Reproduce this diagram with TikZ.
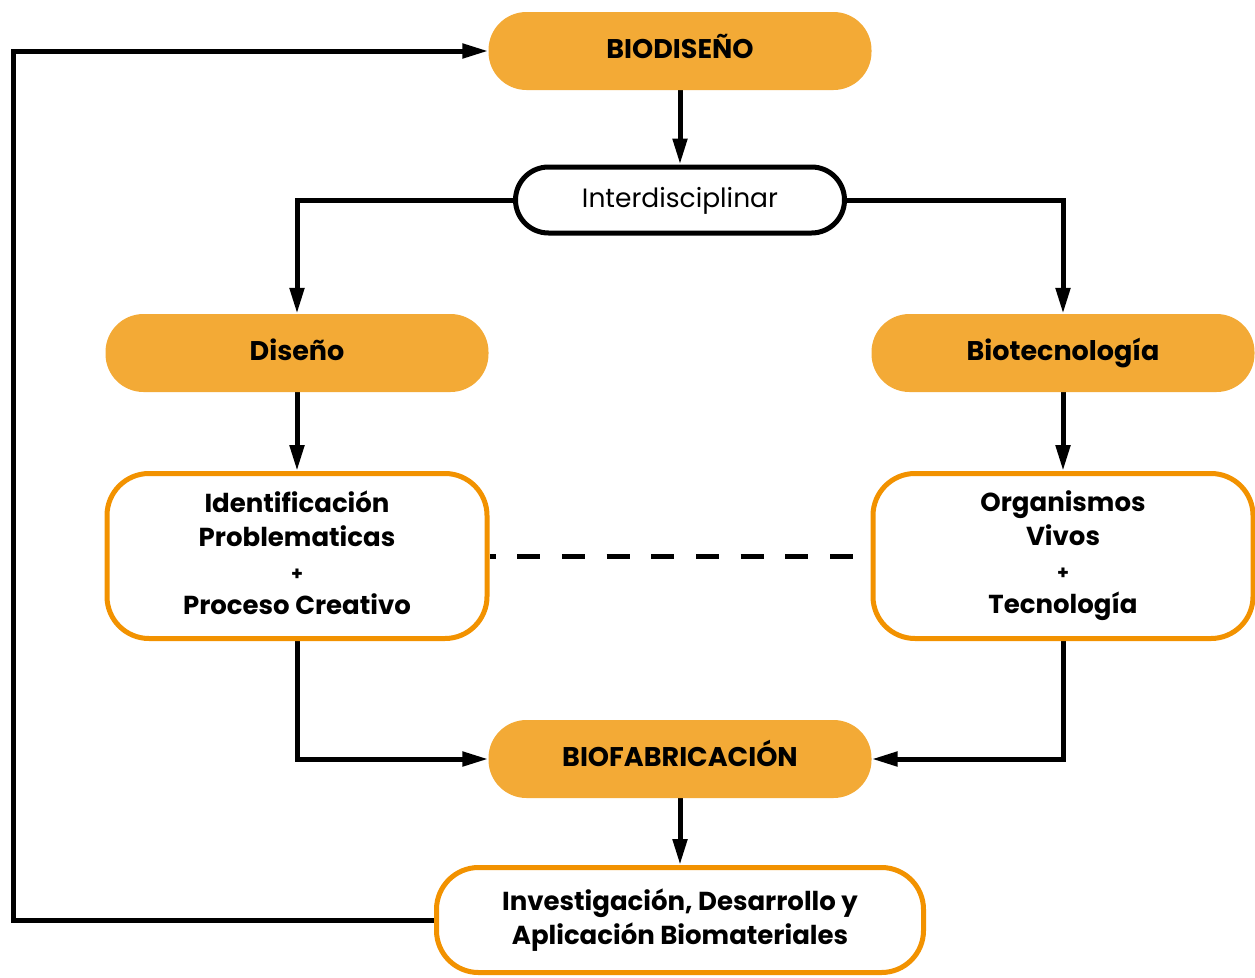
\documentclass[tikz,border=0pt]{standalone}
\usepackage{fontspec}
\setmainfont{Poppins}
\usetikzlibrary{arrows.meta,backgrounds}
\definecolor{ofill}{HTML}{F3AA36}
\definecolor{oline}{HTML}{F29200}
\tikzset{
  pill/.style={rectangle, rounded corners=38pt, fill=ofill, minimum width=383pt,
    minimum height=78pt, inner sep=0pt, text height=19pt, text depth=4pt,
    font=\bfseries\fontsize{27}{30}\selectfont},
  whitepill/.style={rectangle, rounded corners=33pt, draw=black, line width=5pt, fill=white,
    minimum width=329pt, minimum height=66pt, inner sep=0pt, text height=19pt, text depth=4pt,
    font=\fontsize{26.5}{30}\selectfont},
  obox/.style={rectangle, rounded corners=42pt, draw=oline, line width=5pt, fill=white,
    minimum width=380pt, inner sep=0pt, align=center, font=\bfseries\fontsize{26}{34}\selectfont},
  arr/.style={line width=5pt, -{Triangle[length=26pt,width=14pt]}},
  dashline/.style={line width=5pt, dash pattern=on 23pt off 21.7pt, dash phase=17pt},
}
\newcommand{\plussign}{{\fontsize{19}{34}\selectfont +}}
\begin{document}
\begin{tikzpicture}[x=1pt,y=-1pt]
  \useasboundingbox (0,0) rectangle (1255,977);

  % main stages
  \node[pill] (bio) at (680,51) {BIODISEÑO};
  \node[whitepill] (inter) at (680,200) {Interdisciplinar};
  \node[pill] (dis) at (297,353) {Diseño};
  \node[pill] (biot) at (1063,353) {Biotecnología};
  \node[obox, minimum height=165pt] (lbox) at (297,556)
    {Identificación\\Problematicas\\\plussign\\Proceso Creativo\vphantom{g}};
  \node[obox, minimum height=165pt] (rbox) at (1063,556)
    {\vphantom{Id}Organismos\\Vivos\\\plussign\\Tecnología};
  \node[pill] (fab) at (680,759) {BIOFABRICACIÓN};
  \node[obox, minimum width=487pt, minimum height=105pt] (inv) at (680,920)
    {Investigación, Desarrollo y\\Aplicación Biomateriales};

  % return path on the left
  \coordinate (loopx) at (13,0);

  % connectors, kept beneath the boxes
  \begin{pgfonlayer}{background}
    \draw[arr] (bio.south) -- (inter.north);
    \draw[arr] (inter.west) -| (dis.north);
    \draw[arr] (inter.east) -| (biot.north);
    \draw[arr] (dis.south) -- (lbox.north);
    \draw[arr] (biot.south) -- (rbox.north);
    \draw[arr] (lbox.south) |- (fab.west);
    \draw[arr] (rbox.south) |- (fab.east);
    \draw[arr] (fab.south) -- (inv.north);
    \draw[arr] (inv.west) -- (inv.west -| loopx) |- (bio.west);
    \draw[dashline] (lbox.east) -- (rbox.west);
  \end{pgfonlayer}
\end{tikzpicture}
\end{document}
